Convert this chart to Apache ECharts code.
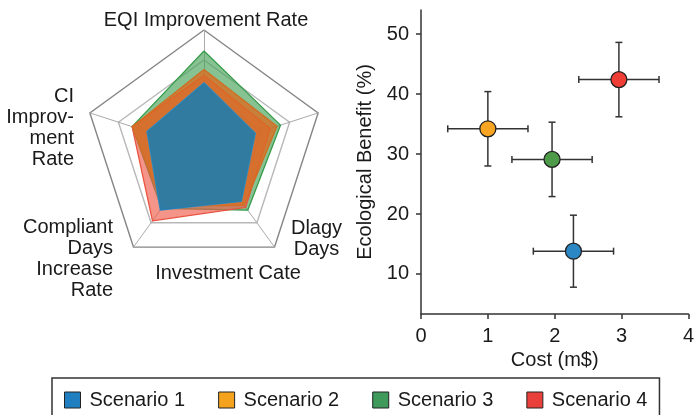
<!DOCTYPE html>
<html><head><meta charset="utf-8">
<script src="https://cdn.jsdelivr.net/npm/echarts@6/dist/echarts.min.js"></script>
<style>html,body{margin:0;padding:0;background:#fff}#c{width:697px;height:415px}</style>
</head><body><div id="c"></div>
<script>
// ---- data ----
const scenarios = ['Scenario 1', 'Scenario 2', 'Scenario 3', 'Scenario 4'];
const costs = [2.28, 1.0, 1.96, 2.96];
const benefits = [13.8, 34.2, 29.1, 42.4];
const costErr = [0.6, 0.6, 0.6, 0.6];
const benefitErr = [6.0, 6.2, 6.2, 6.2];
const xTicks = [0, 1, 2, 3, 4];
const yTicks = [10, 20, 30, 40, 50];
const radarIndicators = ['EQI Improvement Rate', 'CI Improvement Rate', 'Compliant Days Increase Rate', 'Investment Cate', 'Dlagy Days'];
const radarLabelTexts = ['EQI Improvement Rate', 'CI\nImprov-\nment\nRate', 'Compliant\nDays\nIncrease\nRate', 'Investment Cate', 'Dlagy\nDays'];
const radarS1 = [0.56, 0.50, 0.62, 0.53, 0.45];
const radarS2 = [0.67, 0.63, 0.58, 0.57, 0.64];
const radarS3 = [0.825, 0.63, 0.60, 0.62, 0.67];
const radarS4 = [0.62, 0.63, 0.73, 0.59, 0.58];

// ---- styles ----
const FONT = '"Liberation Sans", Arial, Helvetica, sans-serif';
const TXT = '#1a1a1a';
const legendColors = ['#1f7fc1', '#f5a31e', '#3f9a5c', '#e9403b'];
const pointColors = ['#2a87c4', '#f7a522', '#4d9a48', '#ee3e36'];
const radarArea = ['#1f7cae', '#d86c20', '#46a257', '#f05a48'];
const radarLine = ['#3b8fc0', '#cc7026', '#2f9a44', '#e8503f'];
const radarAreaOpacity = [0.9, 0.78, 0.65, 0.65];
const radarValues = [radarS1, radarS2, radarS3, radarS4];
const radarDrawOrder = [2, 3, 1, 0];

const labelLayout = [
  {x: 206, y: 20, align: 'center'},
  {x: 74, y: 127.5, align: 'right'},
  {x: 113, y: 259, align: 'right'},
  {x: 228, y: 273, align: 'center'},
  {x: 316.5, y: 239, align: 'center'}
];

const graphics = radarLabelTexts.map((t, i) => ({
  type: 'text', x: labelLayout[i].x, y: labelLayout[i].y, silent: true,
  style: {
    text: t, fill: TXT, font: '20px ' + FONT, lineHeight: 21,
    textAlign: labelLayout[i].align, align: labelLayout[i].align,
    textVerticalAlign: 'middle', verticalAlign: 'middle'
  }
}));

const series = [];
radarDrawOrder.forEach(i => {
  series.push({
    type: 'radar', name: scenarios[i], radarIndex: 0, symbol: 'none', silent: true,
    data: [{value: radarValues[i], name: scenarios[i]}],
    itemStyle: {color: legendColors[i]},
    lineStyle: {color: radarLine[i], width: 1.3},
    areaStyle: {color: radarArea[i], opacity: radarAreaOpacity[i]},
    z: 2
  });
});

series.push({
  type: 'custom', name: 'errorbars', silent: true, z: 3,
  data: costs.map((c, i) => [c, benefits[i], costErr[i], benefitErr[i]]),
  renderItem: function (params, api) {
    const x = api.value(0), y = api.value(1), ex = api.value(2), ey = api.value(3);
    const l = api.coord([x - ex, y]), r = api.coord([x + ex, y]);
    const t = api.coord([x, y + ey]), b = api.coord([x, y - ey]);
    const cap = 3.5;
    const st = {stroke: '#333', lineWidth: 1.5};
    const ln = (x1, y1, x2, y2) => ({type: 'line', shape: {x1, y1, x2, y2}, style: st});
    return {type: 'group', children: [
      ln(l[0], l[1], r[0], r[1]),
      ln(l[0], l[1] - cap, l[0], l[1] + cap),
      ln(r[0], r[1] - cap, r[0], r[1] + cap),
      ln(t[0], t[1], b[0], b[1]),
      ln(t[0] - cap, t[1], t[0] + cap, t[1]),
      ln(b[0] - cap, b[1], b[0] + cap, b[1])
    ]};
  }
});

scenarios.forEach((n, i) => {
  series.push({
    type: 'scatter', name: n, symbol: 'circle', symbolSize: 16, z: 5,
    data: [[costs[i], benefits[i]]],
    itemStyle: {color: pointColors[i], borderColor: '#222', borderWidth: 1.3, opacity: 1}
  });
});

const option = {
  animation: false,
  backgroundColor: '#fff',
  textStyle: {fontFamily: FONT, color: TXT},
  grid: {left: 421, top: 10, right: 5, bottom: 101, containLabel: false},
  xAxis: {
    type: 'value', min: xTicks[0], max: xTicks[xTicks.length - 1], interval: 1,
    name: 'Cost (m$)', nameLocation: 'middle', nameGap: 34,
    nameTextStyle: {fontSize: 20, color: TXT, fontFamily: FONT},
    axisLine: {show: true, lineStyle: {color: '#333', width: 1.5}},
    axisTick: {show: true, length: 5, lineStyle: {color: '#333', width: 1.5}},
    axisLabel: {fontSize: 20, color: TXT, margin: 12, fontFamily: FONT},
    splitLine: {show: false}
  },
  yAxis: {
    type: 'value', min: 3.33, max: 54, splitNumber: 5,
    name: 'Ecological Benefit (%)', nameLocation: 'middle', nameGap: 46,
    nameTextStyle: {fontSize: 20, color: TXT, fontFamily: FONT},
    axisLine: {show: true, lineStyle: {color: '#333', width: 1.5}},
    axisTick: {show: true, length: 5, customValues: yTicks, lineStyle: {color: '#333', width: 1.5}},
    axisLabel: {fontSize: 20, color: TXT, margin: 12, fontFamily: FONT, customValues: yTicks,
      formatter: v => (yTicks.indexOf(Math.round(v * 1000) / 1000) >= 0 ? String(v) : '')},
    splitLine: {show: false}
  },
  radar: {
    center: [204, 150], radius: 120, startAngle: 90, shape: 'polygon', splitNumber: 4,
    indicator: radarIndicators.map(n => ({name: n, max: 1, min: 0})),
    axisName: {show: false},
    axisLine: {lineStyle: {color: '#aaa', width: 1}},
    axisTick: {show: false},
    axisLabel: {show: false},
    splitLine: {lineStyle: {color: ['#d0d0d0', '#d0d0d0', '#c8c8c8', '#b8b8b8', '#858585'], width: 1.4}},
    splitArea: {show: false}
  },
  legend: {
    left: 52, top: 378, orient: 'horizontal', selectedMode: false,
    itemWidth: 16, itemHeight: 16, itemGap: 33, icon: 'rect',
    padding: [12, 12, 30, 12],
    borderColor: '#333', borderWidth: 1.5, backgroundColor: '#fff',
    textStyle: {fontSize: 20, color: TXT, fontFamily: FONT, padding: [0, 0, 0, 4]},
    itemStyle: {borderColor: '#222', borderWidth: 1},
    data: scenarios.map((n, i) => ({name: n, itemStyle: {color: legendColors[i]}}))
  },
  graphic: graphics,
  series: series
};

const chart = echarts.init(document.getElementById('c'), null, {renderer: 'canvas'});
chart.setOption(option);
</script>
</body></html>
